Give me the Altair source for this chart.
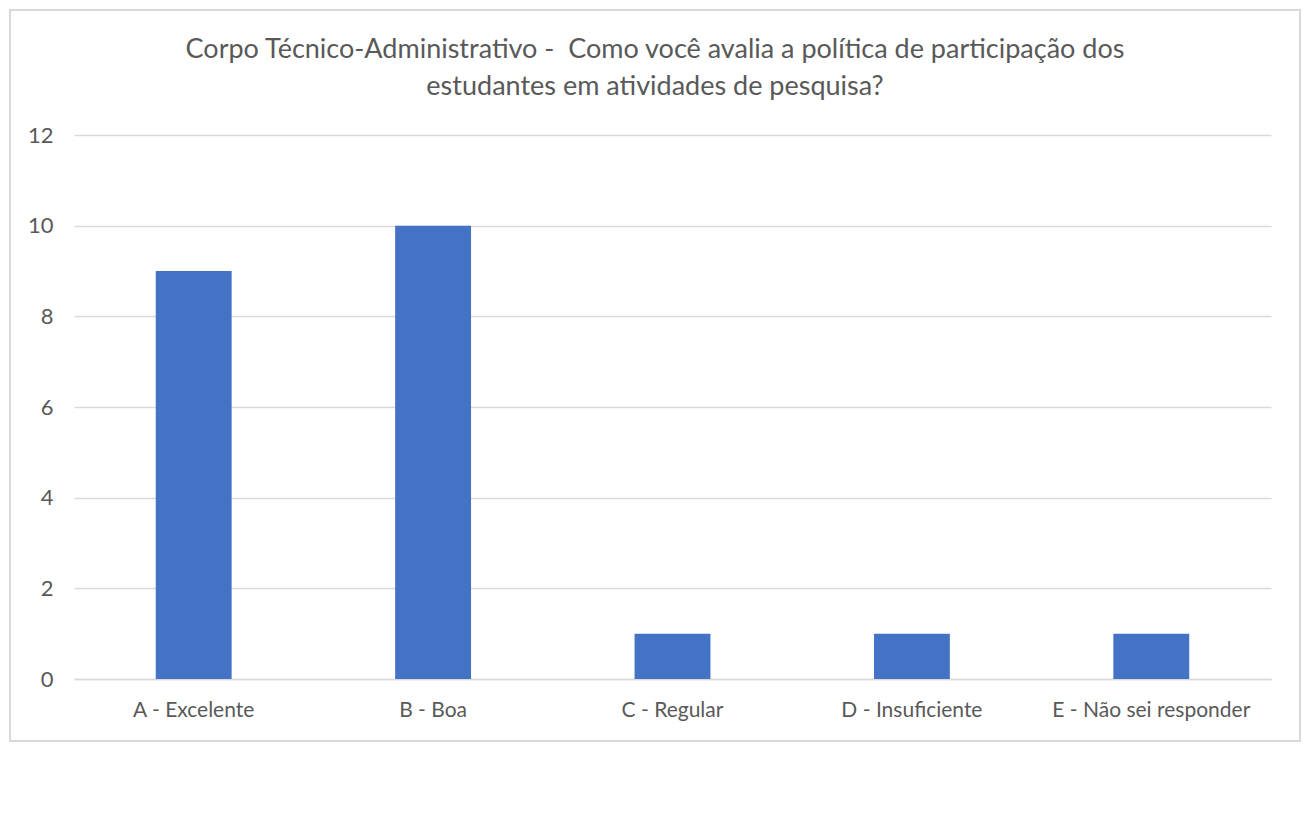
import altair as alt
import pandas as pd

CATEGORIES = ["A - Excelente", "B - Boa", "C - Regular", "D - Insuficiente", "E - Não sei responder"]
VALUES = [9, 10, 1, 1, 1]
Y_TICKS = [0, 2, 4, 6, 8, 10, 12]
TITLE_LINES = [
    "Corpo Técnico-Administrativo - \u00a0Como você avalia a política de participação dos",
    "estudantes em atividades de pesquisa?",
]

FONT = "Lato"
TEXT_COLOR = "#595959"
GRID_COLOR = "#d9d9d9"
BAR_COLOR = "#4472C4"

df = pd.DataFrame({"cat": CATEGORIES, "val": VALUES})

bars = alt.Chart(df).mark_bar(color=BAR_COLOR).encode(
    x=alt.X(
        "cat:N",
        sort=CATEGORIES,
        title=None,
        scale=alt.Scale(paddingInner=0.683, paddingOuter=0.3415),
        axis=alt.Axis(
            labelAngle=0,
            labelFont=FONT,
            labelFontSize=21,
            labelColor=TEXT_COLOR,
            labelPadding=20,
            labelLimit=0,
            ticks=False,
            domain=True,
            domainColor=GRID_COLOR,
            domainWidth=1.5,
            grid=False,
        ),
    ),
    y=alt.Y(
        "val:Q",
        title=None,
        scale=alt.Scale(domain=[0, 12], nice=False),
        axis=alt.Axis(
            values=Y_TICKS,
            labelFont=FONT,
            labelFontSize=22,
            labelColor=TEXT_COLOR,
            labelPadding=21,
            ticks=False,
            domain=False,
            grid=True,
            gridColor=GRID_COLOR,
            gridWidth=1.5,
        ),
    ),
)

frame = alt.Chart(pd.DataFrame({"k": [0]})).mark_rect(
    fill="transparent", stroke=GRID_COLOR, strokeWidth=2
).encode(
    x=alt.value(-64), x2=alt.value(1226), y=alt.value(-125), y2=alt.value(606)
)

layers = [frame, bars]
for i, line in enumerate(TITLE_LINES):
    layers.append(
        alt.Chart(pd.DataFrame({"t": [line]})).mark_text(
            font=FONT, fontSize=27, color=TEXT_COLOR, align="center", baseline="alphabetic"
        ).encode(x=alt.value(581), y=alt.value(-77 + 37 * i), text="t:N")
    )

chart = alt.layer(*layers).properties(
    width=1197,
    height=544,
    padding={"left": 66, "top": 127, "right": 37, "bottom": 70},
    autosize=alt.AutoSizeParams(type="none"),
    background="white",
).configure_view(stroke=None)

chart.save("out.html", embed_options={"renderer": "svg", "actions": False})
